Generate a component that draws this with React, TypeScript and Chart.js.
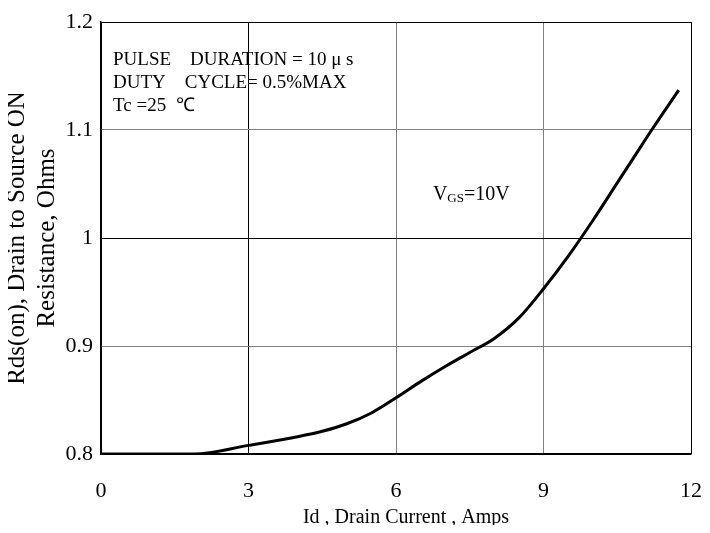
import React, { useEffect, useRef } from "react";
import { Chart, registerables } from "chart.js";

Chart.register(...registerables);

const currentA = [0, 1.9, 3, 4, 4.5, 5, 5.5, 6, 6.5, 7, 7.5, 8, 8.5, 9, 9.5, 10, 10.5, 11, 11.2, 11.75];
const rdsOn = [0.8, 0.8, 0.808, 0.816, 0.821, 0.828, 0.838, 0.852, 0.867, 0.881, 0.894, 0.907, 0.926, 0.953, 0.983, 1.016, 1.051, 1.086, 1.1, 1.137];
const xTicks = [0, 3, 6, 9, 12];
const yTicks = [0.8, 0.9, 1, 1.1, 1.2];
const xTickLabels = ["0", "3", "6", "9", "12"];
const yTickLabels = ["0.8", "0.9", "1", "1.1", "1.2"];
const xTitle = "Id , Drain Current , Amps";
const yTitle = ["Rds(on), Drain to Source ON", "Resistance, Ohms"];
const noteLines = ["PULSE    DURATION = 10 \u03bc s", "DUTY    CYCLE= 0.5%MAX", "Tc =25  \u2103"];

const FONT = "'Liberation Serif', 'Times New Roman', serif";

const textPlugin = {
  id: "texts",
  afterDraw(chart: any) {
    const { ctx, scales, chartArea } = chart;
    const x = scales.x;
    const y = scales.y;
    ctx.save();
    ctx.fillStyle = "#000";

    ctx.font = `22px ${FONT}`;
    ctx.textBaseline = "middle";
    ctx.textAlign = "right";
    yTicks.forEach((v, i) => {
      ctx.fillText(yTickLabels[i], chartArea.left - 8, y.getPixelForValue(v));
    });
    ctx.textAlign = "center";
    xTicks.forEach((v, i) => {
      ctx.fillText(xTickLabels[i], x.getPixelForValue(v), chartArea.bottom + 37);
    });

    ctx.font = `20px ${FONT}`;
    ctx.fillText(xTitle, (chartArea.left + chartArea.right) / 2 + 10, chartArea.bottom + 64);

    ctx.save();
    ctx.translate(0, (chartArea.top + chartArea.bottom) / 2);
    ctx.rotate(-Math.PI / 2);
    ctx.font = `25px ${FONT}`;
    ctx.fillText(yTitle[0], 0, 9);
    ctx.fillText(yTitle[1], 0, 39);
    ctx.restore();

    ctx.textAlign = "left";
    ctx.font = `19px ${FONT}`;
    const lx = x.getPixelForValue(0) + 12;
    noteLines.forEach((t, i) => {
      ctx.fillText(t, lx, chartArea.top + 38 + i * 23);
    });

    const vx = x.getPixelForValue(6.75);
    const vy = y.getPixelForValue(1.04);
    ctx.font = `20px ${FONT}`;
    ctx.fillText("V", vx, vy);
    const w1 = ctx.measureText("V").width;
    ctx.font = `13px ${FONT}`;
    ctx.fillText("GS", vx + w1, vy + 4);
    const w2 = ctx.measureText("GS").width;
    ctx.font = `20px ${FONT}`;
    ctx.fillText("=10V", vx + w1 + w2, vy);
    ctx.restore();
  },
};

export default function App() {
  const ref = useRef<HTMLCanvasElement | null>(null);
  useEffect(() => {
    if (!ref.current) return;
    const data = currentA.map((v, i) => ({ x: v, y: rdsOn[i] }));
    const darkX = (v: number) => v === 0 || v === 3 || v === 12;
    const darkY = (v: number) => Math.abs(v - 0.8) < 1e-6 || Math.abs(v - 1) < 1e-6 || Math.abs(v - 1.2) < 1e-6;
    const chart = new Chart(ref.current, {
      type: "scatter",
      data: {
        datasets: [
          {
            data,
            showLine: true,
            borderColor: "#000",
            borderWidth: 3,
            pointRadius: 0,
            cubicInterpolationMode: "monotone",
            fill: false,
          } as any,
        ],
      },
      options: {
        animation: false,
        responsive: false,
        layout: { padding: { left: 93, right: 11, top: 14, bottom: 71 } },
        plugins: { legend: { display: false }, tooltip: { enabled: false } },
        scales: {
          x: {
            type: "linear",
            min: 0,
            max: 12,
            afterBuildTicks: (s: any) => {
              s.ticks = xTicks.map((v) => ({ value: v }));
            },
            grid: {
              drawTicks: false,
              color: (c: any) => (darkX(c.tick.value) ? "#000" : "#808080"),
              lineWidth: 1,
            },
            border: { color: "#000", width: 1.5 },
            ticks: { display: false },
            title: { display: false },
          },
          y: {
            type: "linear",
            min: 0.8,
            max: 1.2,
            afterBuildTicks: (s: any) => {
              s.ticks = yTicks.map((v) => ({ value: v }));
            },
            grid: {
              drawTicks: false,
              color: (c: any) => (darkY(c.tick.value) ? "#000" : "#808080"),
              lineWidth: 1,
            },
            border: { color: "#000", width: 1.5 },
            ticks: { display: false },
            title: { display: false },
          },
        },
      },
      plugins: [textPlugin],
    });
    return () => chart.destroy();
  }, []);
  return (
    <div style={{ width: 694, height: 517 }}>
      <canvas ref={ref} width={694} height={517} style={{ display: "block" }} />
    </div>
  );
}
